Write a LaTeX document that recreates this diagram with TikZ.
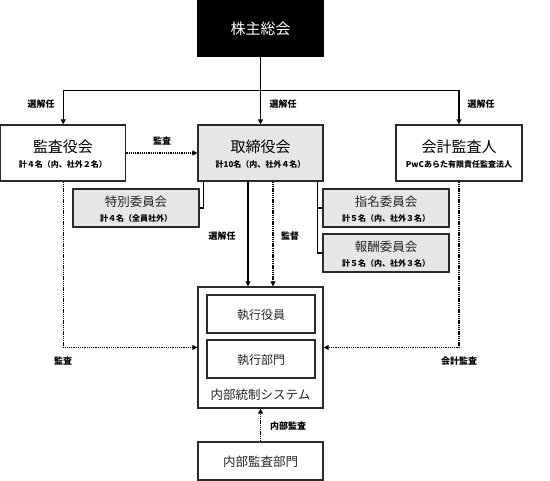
\documentclass[tikz,border=0pt]{standalone}
\usepackage{fontspec}
\setmainfont{Noto Sans CJK JP}
\usetikzlibrary{arrows.meta,positioning,calc}
\definecolor{boxgray}{HTML}{E6E6E6}
\definecolor{edge}{HTML}{2A2A2A}
\tikzset{
  whitebox/.style={draw=edge,line width=1.3pt,fill=white,inner sep=0pt,minimum width=125pt,minimum height=56pt},
  graybox/.style={draw=edge,line width=1.3pt,fill=boxgray,inner sep=0pt,minimum width=125pt,minimum height=56pt},
  blackbox/.style={draw=black,line width=1.3pt,fill=black,inner sep=0pt,minimum width=125pt,minimum height=56pt},
  smallbox/.style={minimum width=126pt,minimum height=38pt},
  title/.style={inner sep=0pt,text=black,font=\fontsize{15}{18}\selectfont},
  midtitle/.style={inner sep=0pt,text=black!85,font=\fontsize{12.5}{15}\selectfont},
  subtitle/.style={inner sep=0pt,text=black,font=\bfseries\fontsize{8}{10}\selectfont},
  lbl/.style={inner sep=0pt,text=black,font=\bfseries\fontsize{9}{11}\selectfont},
  conn/.style={draw=black,line width=1.1pt},
  arr/.style={conn,-{Triangle[length=5pt,width=5pt]}},
  dotarr/.style={conn,line width=1.3pt,dash pattern=on 1.3pt off 0.9pt,-{Triangle[length=5pt,width=5pt]}},
}
\begin{document}
\begin{tikzpicture}[x=1pt,y=-1pt]
\useasboundingbox (0,0) rectangle (550,481);
% boxes
\node[blackbox] (kabu) at (260.5,28) {};
\node[text=white,font=\fontsize{15}{18}\selectfont,inner sep=0pt] (kabut) at (260.5,29) {株主総会};
\node[whitebox] (kansa) at (63.2,153) {};
\node[graybox] (tori) at (260.5,153) {};
\node[whitebox,minimum width=126pt] (kaikei) at (459,153) {};
\node[graybox,smallbox] (tokubetsu) at (136,208) {};
\node[graybox,smallbox] (shimei) at (386,208) {};
\node[graybox,smallbox] (houshu) at (386,253) {};
\node[whitebox,minimum height=121pt] (naibu) at (260.5,347.5) {};
\node[whitebox,minimum width=108pt,minimum height=38pt] (shikkou) at (261,314) {};
\node[whitebox,minimum width=108pt,minimum height=38pt] (bumon) at (261,359) {};
\node[whitebox,minimum height=38pt] (naibukansa) at (260.5,461) {};
% texts
\node[title] (kansat) at (63,147) {監査役会};
\node[subtitle] (kansas) at (63,164.5) {計４名（内、社外２名）};
\node[title] (torit) at (260.5,147) {取締役会};
\node[subtitle] (toris) at (260.5,164.5) {計10名（内、社外４名）};
\node[title] (kaikeit) at (459,147) {会計監査人};
\node[subtitle] (kaikeis) at (459,164.5) {PwCあらた有限責任監査法人};
\node[midtitle] (tokut) at (136,202) {特別委員会};
\node[subtitle] (tokus) at (136,218) {計４名（全員社外）};
\node[midtitle] (shimeit) at (386,202) {指名委員会};
\node[subtitle] (shimeis) at (386,218) {計５名（内、社外３名）};
\node[midtitle] (houshut) at (386,247) {報酬委員会};
\node[subtitle] (houshus) at (386,263) {計５名（内、社外３名）};
\node[midtitle,font=\fontsize{12}{14}\selectfont] (shikkout) at (261,315) {執行役員};
\node[midtitle,font=\fontsize{12}{14}\selectfont] (bumont) at (261,360) {執行部門};
\node[midtitle] (naibut) at (260.5,394.5) {内部統制システム};
\node[midtitle] (naibukansat) at (260.5,461.5) {内部監査部門};
% labels
\node[lbl] (l1) at (41,104) {選解任};
\node[lbl] (l2) at (283,104) {選解任};
\node[lbl] (l3) at (481,104) {選解任};
\node[lbl] (l4) at (162,141.5) {監査};
\node[lbl] (l5) at (222,236) {選解任};
\node[lbl] (l6) at (290,236) {監督};
\node[lbl] (l7) at (63,361) {監査};
\node[lbl] (l8) at (459,361) {会計監査};
\node[lbl] (l9) at (288,426) {内部監査};
% connectors
\coordinate (J) at (260.5,90.5);
\draw[arr] (kabu.south) -- (tori.north);
\draw[arr] (J) -| (kansa.north);
\draw[arr] (J) -| (kaikei.north);
\draw[dotarr] (kansa.east) -- (tori.west);
\draw[conn] ([xshift=6pt]tori.south west) |- (tokubetsu.east);
\draw[conn] ([xshift=-6pt]tori.south east) |- (shimei.west);
\draw[conn] ([xshift=-6pt]tori.south east) |- (houshu.west);
\draw[arr] ([xshift=-12.5pt]tori.south) -- ([xshift=-12.5pt]naibu.north);
\draw[dotarr] ([xshift=12.5pt]tori.south) -- ([xshift=12.5pt]naibu.north);
\draw[dotarr] (kansa.south) |- (naibu.west);
\draw[dotarr] (kaikei.south) |- (naibu.east);
\draw[dotarr] (naibukansa.north) -- (naibu.south);
\end{tikzpicture}
\end{document}
